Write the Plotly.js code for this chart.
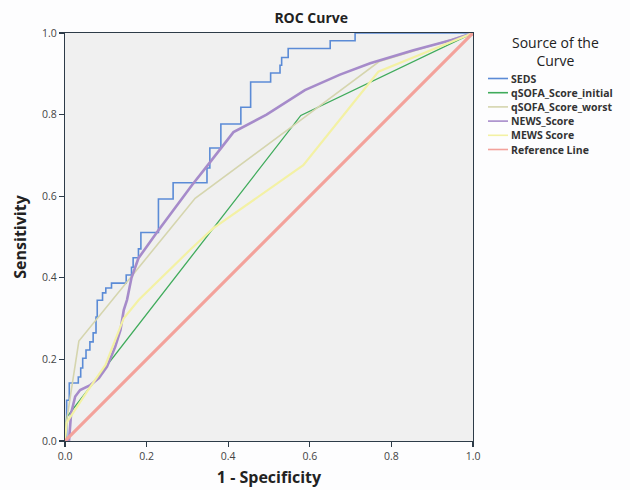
<!DOCTYPE html>
<html>
<head>
<meta charset="utf-8">
<script src="https://cdn.plot.ly/plotly-3.0.1.min.js"></script>
<style>html,body{margin:0;padding:0;background:#fdfdfe;}#chart{width:630px;height:490px;}</style>
</head>
<body>
<div id="chart"></div>
<script>
// ---- data ----
var sedsX = [0, 0.004, 0.0105, 0.0326, 0.0385, 0.0434, 0.0515, 0.061, 0.069, 0.076, 0.079, 0.092, 0.100, 0.114, 0.150, 0.163, 0.167, 0.180, 0.186, 0.229, 0.265, 0.348, 0.355, 0.382, 0.431, 0.455, 0.504, 0.527, 0.531, 0.547, 0.650, 0.711, 1];
var sedsY = [0, 0.100, 0.142, 0.157, 0.179, 0.203, 0.223, 0.243, 0.265, 0.304, 0.345, 0.363, 0.375, 0.387, 0.407, 0.426, 0.449, 0.471, 0.511, 0.593, 0.633, 0.669, 0.718, 0.777, 0.818, 0.880, 0.902, 0.921, 0.940, 0.962, 0.981, 1.0, 1.0];

var qsofaInitX = [0, 0.004, 0.578, 1];
var qsofaInitY = [0, 0.058, 0.798, 1];

var qsofaWorstX = [0, 0.004, 0.034, 0.319, 0.576, 0.770, 1];
var qsofaWorstY = [0, 0.050, 0.245, 0.595, 0.785, 0.930, 1];

var newsX = [0, 0.010, 0.015, 0.025, 0.037, 0.062, 0.083, 0.103, 0.123, 0.136, 0.144, 0.152, 0.163, 0.180, 0.225, 0.265, 0.311, 0.349, 0.413, 0.494, 0.588, 0.674, 0.748, 0.854, 0.948, 1];
var newsY = [0, 0.002, 0.068, 0.109, 0.125, 0.137, 0.154, 0.182, 0.231, 0.272, 0.321, 0.346, 0.400, 0.448, 0.511, 0.566, 0.627, 0.675, 0.757, 0.800, 0.860, 0.898, 0.926, 0.958, 0.983, 1];

var mewsX = [0, 0.004, 0.054, 0.099, 0.144, 0.181, 0.306, 0.363, 0.584, 0.768, 1];
var mewsY = [0, 0.045, 0.121, 0.186, 0.301, 0.346, 0.468, 0.521, 0.676, 0.905, 1];

var refX = [0, 1];
var refY = [0, 1];

var seriesNames = ["SEDS", "qSOFA_Score_initial", "qSOFA_Score_worst", "NEWS_Score", "MEWS Score", "Reference Line"];
var legendTitle = "Source of the<br>Curve";
var tickVals = [0, 0.2, 0.4, 0.6, 0.8, 1.0];
var tickText = ["0.0", "0.2", "0.4", "0.6", "0.8", "1.0"];

// ---- styles ----
var colors = ["#5b8bd6", "#3fab5b", "#d5d5ae", "#a68bca", "#f3f1a4", "#f3a29b"];
var widths = [1.6, 1.3, 1.6, 2.6, 2.2, 3.2];
var shapesLine = ["hv", "linear", "linear", "linear", "linear", "linear"];
var xs = [sedsX, qsofaInitX, qsofaWorstX, newsX, mewsX, refX];
var ys = [sedsY, qsofaInitY, qsofaWorstY, newsY, mewsY, refY];

var traces = seriesNames.map(function (n, i) {
  return {
    x: xs[i], y: ys[i], name: n, type: "scatter", mode: "lines",
    line: {color: colors[i], width: widths[i], shape: shapesLine[i]},
    cliponaxis: false, hoverinfo: "skip", showlegend: false
  };
});

// plot area in pixels
var M = {l: 65, r: 157, t: 33, b: 49}, W = 630, H = 490;
var pw = W - M.l - M.r, ph = H - M.t - M.b;
function px2x(p) { return (p - M.l) / pw; }
function py2y(p) { return (H - M.b - p) / ph; }

var fontFam = "'Open Sans', 'DejaVu Sans', sans-serif";

// legend drawn as shapes + annotations built from the series arrays
var legShapes = [], legAnn = [];
var legTop = 78.5, legStep = 14.2;
seriesNames.forEach(function (n, i) {
  var yc = legTop + i * legStep;
  legShapes.push({type: "line", xref: "paper", yref: "paper",
    x0: px2x(488), x1: px2x(508), y0: py2y(yc), y1: py2y(yc),
    line: {color: colors[i], width: 1.6}});
  legAnn.push({xref: "paper", yref: "paper", x: px2x(510), y: py2y(yc),
    xanchor: "left", yanchor: "middle", showarrow: false, text: "<b>" + n + "</b>",
    borderpad: 0, font: {family: fontFam, size: 10.5, color: "#333"}});
});
legAnn.push({xref: "paper", yref: "paper", x: px2x(555), y: py2y(52),
  xanchor: "center", yanchor: "middle", showarrow: false, text: legendTitle,
  align: "center", borderpad: 0, font: {family: fontFam, size: 14, color: "#222"}});

var axisCommon = {
  range: [0, 1], tickvals: tickVals, ticktext: tickText,
  showgrid: false, zeroline: false, showline: true, mirror: true,
  linecolor: "#2d3b48", linewidth: 1.2, ticks: "outside", ticklen: 5,
  tickcolor: "#2d3b48", tickwidth: 1.2,
  tickfont: {family: fontFam, size: 10.5, color: "#444"}, fixedrange: true
};

var layout = {
  width: W, height: H,
  margin: M,
  paper_bgcolor: "#fdfdfe", plot_bgcolor: "#f0f0f0",
  title: {text: "<b>ROC Curve</b>", font: {family: fontFam, size: 14, color: "#222"},
          x: 0.494, xanchor: "center", y: 0.963, yanchor: "middle", yref: "container"},
  xaxis: Object.assign({}, axisCommon, {
    title: {text: "<b>1 - Specificity</b>", font: {family: fontFam, size: 16, color: "#222"}, standoff: 10}
  }),
  yaxis: Object.assign({}, axisCommon, {
    title: {text: "<b>Sensitivity</b>", font: {family: fontFam, size: 16, color: "#222"}, standoff: 11}
  }),
  showlegend: false,
  shapes: legShapes,
  annotations: legAnn
};

Plotly.newPlot("chart", traces, layout, {displayModeBar: false, staticPlot: true});
</script>
</body>
</html>
